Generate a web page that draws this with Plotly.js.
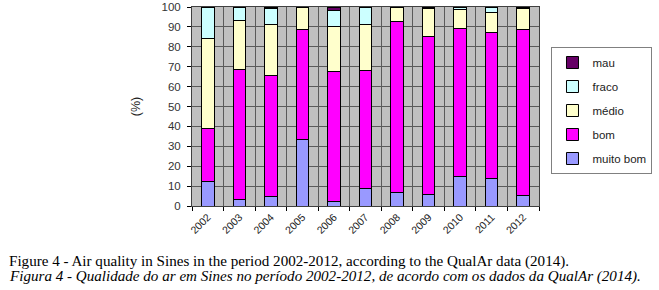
<!DOCTYPE html>
<html>
<head>
<meta charset="utf-8">
<script src="https://cdn.plot.ly/plotly-3.0.1.min.js"></script>
<style>html,body{margin:0;padding:0;background:#fff;}#chart{width:659px;height:290px;}</style>
</head>
<body>
<div id="chart"></div>
<script>
const years = ['2002','2003','2004','2005','2006','2007','2008','2009','2010','2011','2012'];
const muitoBom = [12.4, 3.3, 4.6, 33.4, 2.5, 8.8, 6.8, 6.0, 14.6, 13.8, 5.5];
const bom      = [26.4, 65.3, 61.0, 55.4, 65.3, 59.5, 86.1, 79.1, 74.7, 73.5, 83.4];
const medio    = [45.2, 24.4, 25.8, 11.2, 22.6, 22.7, 7.1, 14.2, 9.2, 9.9, 10.3];
const fraco    = [16.0, 7.0, 7.8, 0, 7.9, 9.0, 0, 0, 1.5, 2.8, 0];
const mau      = [0, 0, 0.8, 0, 1.7, 0, 0, 0.7, 0, 0, 0.8];
const seriesNames = ['muito bom', 'bom', 'médio', 'fraco', 'mau'];
const seriesColors = ['#9999ff', '#ff00ff', '#ffffcc', '#ccffff', '#660066'];
const seriesValues = [muitoBom, bom, medio, fraco, mau];
const captionEn = 'Figure 4 - Air quality in Sines in the period 2002-2012, according to the QualAr data (2014).';
const captionPt = 'Figura 4 - Qualidade do ar em Sines no período 2002-2012, de acordo com os dados da QualAr (2014).';

const traces = seriesNames.map((n, i) => ({
  type: 'bar', name: n, x: years, y: seriesValues[i], legendgroup: n,
  legendrank: seriesNames.length - i,
  marker: {color: seriesColors[i], line: {color: '#000', width: 1}},
  width: 0.4, hoverinfo: 'skip'
}));

const L = 192, R = 106, T = 7, B = 84, W = 659, H = 290;
const pw = W - L - R, ph = H - T - B;
const px2x = p => (p - L) / pw;
const py2y = p => (H - B - p) / ph;

const layout = {
  width: W, height: H,
  margin: {l: L, r: R, t: T, b: B, pad: 0},
  paper_bgcolor: '#fff', plot_bgcolor: '#c0c0c0',
  barmode: 'stack', bargap: 0.6,
  font: {family: 'Liberation Sans, Arial, sans-serif', color: '#333'},
  showlegend: true,
  legend: {
    x: px2x(566), y: py2y(47), xanchor: 'left', yanchor: 'top',
    bgcolor: '#fff', bordercolor: '#808080', borderwidth: 1,
    traceorder: 'grouped', tracegroupgap: 5,
    font: {size: 11.5, color: '#222'}, itemwidth: 30
  },
  xaxis: {
    type: 'category', tickson: 'boundaries', ticks: 'outside', ticklen: 4, tickcolor: '#000',
    tickangle: -45, tickfont: {size: 10.5, color: '#222'},
    showgrid: true, gridcolor: '#5a5a5a', gridwidth: 1,
    showline: true, linecolor: '#404040', linewidth: 1, mirror: true,
    fixedrange: true
  },
  yaxis: {
    range: [0, 100], dtick: 10, ticks: 'outside', ticklen: 4, tickcolor: '#000',
    tickfont: {size: 11.5, color: '#333'}, ticklabeloverflow: 'allow', ticklabelstandoff: 4,
    showgrid: true, gridcolor: '#5a5a5a', gridwidth: 1, zeroline: false,
    showline: true, linecolor: '#404040', linewidth: 1, mirror: true,
    title: {text: '(%)', font: {size: 12.5, color: '#222'}, standoff: 18},
    fixedrange: true
  },
  annotations: [
    {text: captionEn, xref: 'paper', yref: 'paper', x: px2x(0), y: py2y(261),
     xanchor: 'left', yanchor: 'middle', showarrow: false,
     font: {family: 'Liberation Serif, Times New Roman, serif', size: 15.1, color: '#000'}},
    {text: '<i>' + captionPt + '</i>', xref: 'paper', yref: 'paper', x: px2x(0), y: py2y(276),
     xanchor: 'left', yanchor: 'middle', showarrow: false,
     font: {family: 'Liberation Serif, Times New Roman, serif', size: 15.1, color: '#000'}}
  ]
};

Plotly.newPlot('chart', traces, layout, {displayModeBar: false, staticPlot: true});
</script>
</body>
</html>
